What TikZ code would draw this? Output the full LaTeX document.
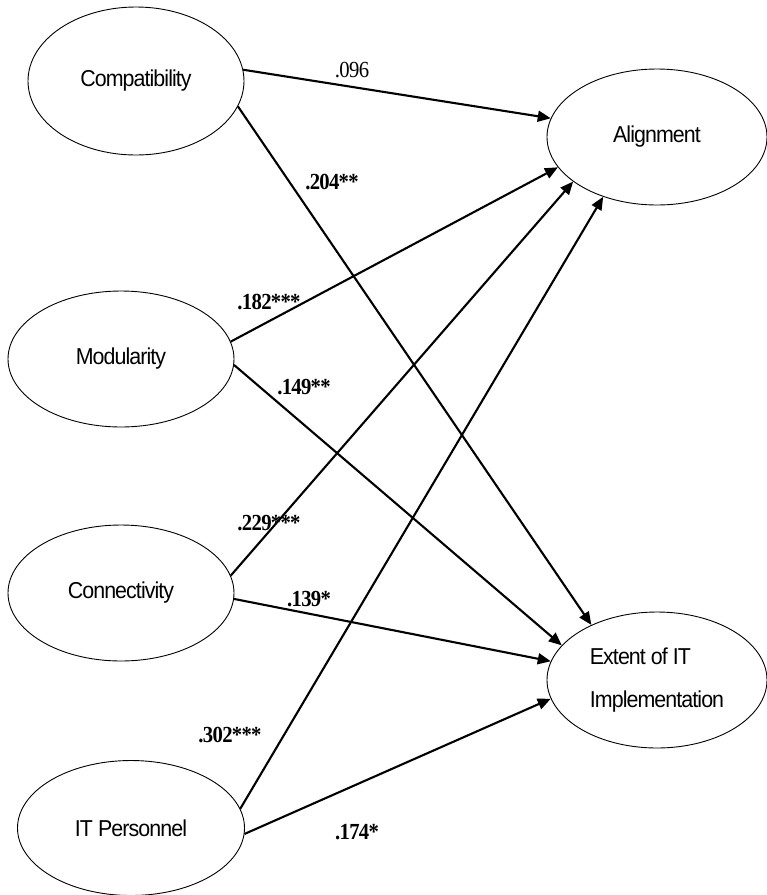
\documentclass[tikz,border=0pt]{standalone}
\usepackage{fontspec}
\newfontfamily\ovalfont[FakeStretch=0.93, LetterSpace=-4]{Liberation Sans}
\newfontfamily\coeffont[FakeStretch=0.9, LetterSpace=-3]{Liberation Serif}
\usetikzlibrary{shapes.geometric}
\usetikzlibrary{arrows.meta}

\begin{document}
\begin{tikzpicture}[x=1pt, y=-1pt,
        lnode/.style={ellipse, draw, line width=0.9pt, inner sep=0pt, font=\ovalfont\fontsize{23}{27}\selectfont},
        coef/.style={font=\coeffont\bfseries\fontsize{23}{27}\selectfont, inner sep=1pt},
        ->, >={Triangle[length=13pt,width=11pt]}, line width=2.1pt
    ]
        \useasboundingbox (0,0) rectangle (767,895);

        \node[lnode, minimum width=216pt, minimum height=148pt] (comp) at (136,81) {Compatibility};
        \node[lnode, minimum width=226pt, minimum height=136pt] (modul) at (121,359) {Modularity};
        \node[lnode, minimum width=226pt, minimum height=136pt] (conn) at (121,593) {Connectivity};
        \node[lnode, minimum width=227pt, minimum height=135pt] (itp) at (131,828) {IT Personnel};
        \node[lnode, minimum width=220pt, minimum height=136pt] (align) at (657,137) {Alignment};
        \node[lnode, minimum width=220pt, minimum height=136pt, align=left] (extent) at (657,680) {Extent of IT\\[16pt]Implementation};

        \path (comp.6) edge (align.170)
            (comp.-14) edge (extent.140)
            (modul.9) edge (align.197)
            (modul.-3) edge (extent.160)
            (conn.9) edge (align.208)
            (conn.-3) edge (extent.170)
            (itp.10) edge (align.228)
            (itp.-3) edge (extent.190);

        % path coefficients
        \node[coef] (w1) at (352,70) {\mdseries .096};
        \node[coef] (w2) at (332,182) {.204**};
        \node[coef] (w3) at (269,302) {.182***};
        \node[coef] (w4) at (304,387) {.149**};
        \node[coef] (w5) at (269,523) {.229***};
        \node[coef] (w6) at (309,599) {.139*};
        \node[coef] (w7) at (230,735) {.302***};
        \node[coef] (w8) at (357,832) {.174*};
    \end{tikzpicture}
\end{document}
